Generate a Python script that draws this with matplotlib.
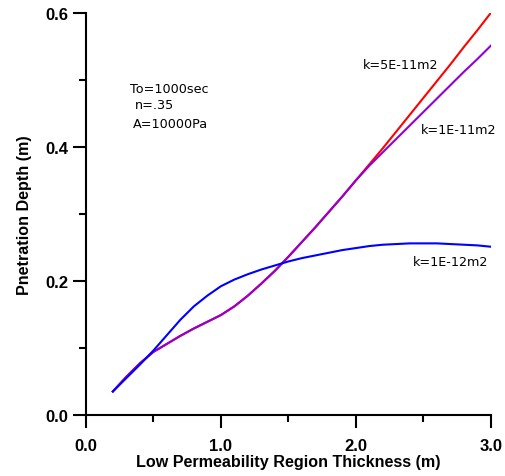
import matplotlib.pyplot as plt
from matplotlib.ticker import MultipleLocator

plt.rcParams['font.family'] = ['Liberation Sans', 'DejaVu Sans']

x = [0.2, 0.3, 0.4, 0.5, 0.6, 0.7, 0.8, 0.9, 1.0, 1.1, 1.2, 1.3, 1.4, 1.5,
     1.6, 1.7, 1.8, 1.9, 2.0, 2.1, 2.2, 2.3, 2.4, 2.5, 2.6, 2.7, 2.8, 2.9, 3.0]

k5e11 = [0.035, 0.057, 0.077, 0.094, 0.106, 0.118, 0.129, 0.139, 0.149, 0.162,
         0.178, 0.196, 0.215, 0.236, 0.258, 0.280, 0.303, 0.326, 0.350, 0.374,
         0.398, 0.423, 0.448, 0.473, 0.498, 0.523, 0.549, 0.574, 0.600]
k1e11 = [0.035, 0.057, 0.077, 0.094, 0.106, 0.118, 0.129, 0.139, 0.149, 0.162,
         0.178, 0.196, 0.215, 0.236, 0.258, 0.280, 0.303, 0.326, 0.350, 0.372,
         0.392, 0.412, 0.432, 0.452, 0.472, 0.492, 0.512, 0.531, 0.551]
k1e12 = [0.035, 0.055, 0.075, 0.096, 0.119, 0.142, 0.162, 0.178, 0.192, 0.202,
         0.210, 0.217, 0.223, 0.229, 0.234, 0.238, 0.242, 0.246, 0.249, 0.252,
         0.254, 0.255, 0.256, 0.256, 0.256, 0.255, 0.254, 0.253, 0.251]

fig = plt.figure(figsize=(5.05, 4.77), dpi=100)
ax = fig.add_axes([0.170, 0.128, 0.802, 0.843])

ax.plot(x, k5e11, color='#ff0000', lw=1.5)
ax.plot(x, k1e11, color='#9400d3', lw=1.5)
ax.plot(x, k1e12, color='#0000ff', lw=1.5)

ax.set_xlim(0, 3)
ax.set_ylim(0, 0.6)
ax.xaxis.set_major_locator(MultipleLocator(1.0))
ax.xaxis.set_minor_locator(MultipleLocator(0.5))
ax.yaxis.set_major_locator(MultipleLocator(0.2))
ax.yaxis.set_minor_locator(MultipleLocator(0.1))
ax.xaxis.set_major_formatter(plt.FormatStrFormatter('%.1f'))
ax.yaxis.set_major_formatter(plt.FormatStrFormatter('%.1f'))

for s in ['top', 'right']:
    ax.spines[s].set_visible(False)
for s in ['left', 'bottom']:
    ax.spines[s].set_linewidth(1.5)
ax.tick_params(which='major', direction='out', length=9.5, width=1.5,
               labelsize=12)
ax.tick_params(axis='x', which='major', pad=7)
ax.tick_params(axis='y', which='major', pad=3)
ax.tick_params(which='minor', direction='out', length=5, width=1.5)
for lab in ax.get_xticklabels() + ax.get_yticklabels():
    lab.set_fontweight('bold')

ax.set_xlabel('Low Permeability Region Thickness (m)', fontsize=11.6,
              fontweight='bold', labelpad=1)
ax.set_ylabel('Pnetration Depth (m)', fontsize=11.6, fontweight='bold',
              labelpad=10)

tf = dict(fontsize=9.2, family=['DejaVu Sans'])
ax.text(0.33, 0.482, 'To=1000sec', **tf)
ax.text(0.36, 0.458, 'n=.35', **tf)
ax.text(0.35, 0.43, 'A=10000Pa', **tf)
ax.text(2.05, 0.518, 'k=5E-11m2', **tf)
ax.text(2.48, 0.42, 'k=1E-11m2', **tf)
ax.text(2.42, 0.223, 'k=1E-12m2', **tf)

fig.savefig('out.png', dpi=100)
